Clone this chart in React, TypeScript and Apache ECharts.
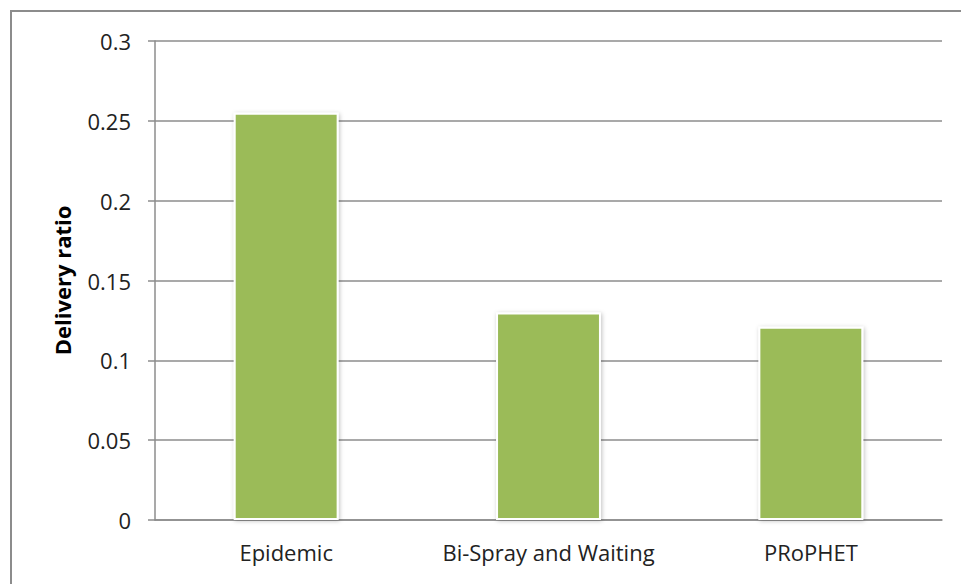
import React, { useEffect, useRef } from "react";
import * as echarts from "echarts";

const categories = ["Epidemic", "Bi-Spray and Waiting", "PRoPHET"];
const deliveryRatio = [0.255, 0.13, 0.121];
const yTicks = { min: 0, max: 0.3, interval: 0.05 };
const yAxisTitle = "Delivery ratio";

export default function App() {
  const ref = useRef<HTMLDivElement>(null);
  useEffect(() => {
    const chart = echarts.init(ref.current!, null, { renderer: "svg" });
    const font = "'Open Sans', 'Noto Sans', sans-serif";
    chart.setOption({
      animation: false,
      backgroundColor: "#ffffff",
      grid: { left: 155, top: 41, right: 19, bottom: 64, containLabel: false },
      graphic: [
        {
          type: "rect",
          shape: { x: 11, y: 11, width: 970, height: 600 },
          style: { fill: "none", stroke: "#8c8c8c", lineWidth: 2 },
          silent: true,
        },
      ],
      xAxis: {
        type: "category",
        data: categories,
        axisLine: { show: true, lineStyle: { color: "#8c8c8c", width: 1.5 } },
        axisTick: { show: false },
        axisLabel: {
          color: "#222",
          fontSize: 22,
          fontFamily: font,
          margin: 21,
          interval: 0,
          hideOverlap: false,
        },
      },
      yAxis: {
        type: "value",
        min: yTicks.min,
        max: yTicks.max,
        interval: yTicks.interval,
        name: yAxisTitle,
        nameLocation: "middle",
        nameGap: 82,
        nameRotate: 90,
        nameTextStyle: { color: "#000", fontSize: 22, fontWeight: "bold", fontFamily: font },
        axisLine: { show: true, lineStyle: { color: "#8c8c8c", width: 1.5 } },
        axisTick: { show: true, length: 7, lineStyle: { color: "#8c8c8c", width: 1.5 } },
        splitLine: { show: true, lineStyle: { color: "#8c8c8c", width: 1.5 } },
        axisLabel: {
          color: "#222",
          fontSize: 22,
          fontFamily: font,
          margin: 24,
          formatter: (v: number) => String(Math.round(v * 100) / 100),
        },
      },
      series: [
        {
          type: "bar",
          data: deliveryRatio,
          barWidth: "40%",
          itemStyle: {
            color: "#9BBB59",
            borderColor: "#ffffff",
            borderWidth: 2,
            shadowColor: "rgba(0,0,0,0.25)",
            shadowBlur: 4,
            shadowOffsetX: 1,
            shadowOffsetY: 1,
          },
        },
      ],
    });
    return () => chart.dispose();
  }, []);
  return <div ref={ref} style={{ width: 961, height: 584, position: "absolute", left: 0, top: 0 }} />;
}
